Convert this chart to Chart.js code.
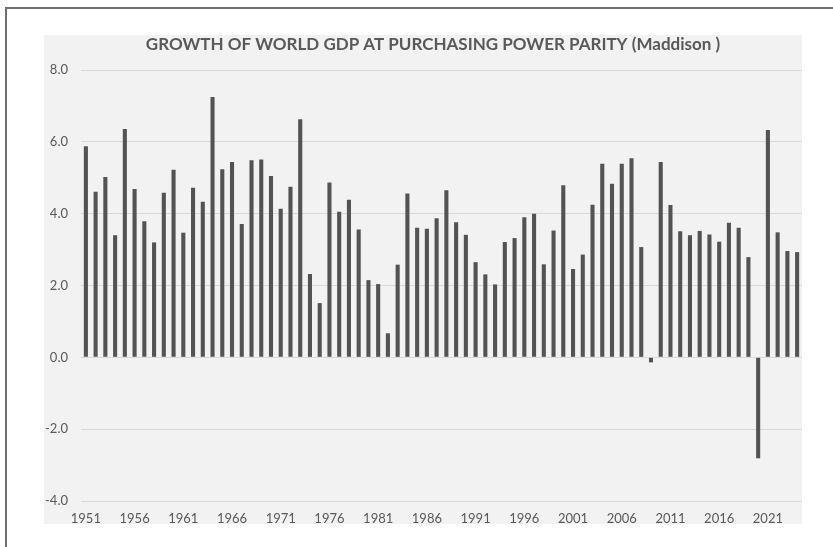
<!DOCTYPE html>
<html>
<head>
<meta charset="utf-8">
<script src="https://cdn.jsdelivr.net/npm/chart.js@4/dist/chart.umd.min.js"></script>
<style>
  html, body { margin: 0; padding: 0; background: #ffffff; }
  body { width: 833px; height: 547px; position: relative; overflow: hidden; }
  #frame {
    position: absolute; left: 5px; top: 7px; width: 840px; height: 560px;
    border-left: 2px solid #707070; border-top: 2px solid #707070;
  }
  #panel {
    position: absolute; left: 44px; top: 35px; width: 758px; height: 489px;
    background: #f2f2f2; overflow: hidden;
  }
  canvas { display: block; }
</style>
</head>
<body>
<div id="frame"></div>
<div id="panel"><canvas id="chart" width="758" height="492"></canvas></div>
<script>
// World GDP growth at PPP, % per year
const years = [];
for (let y = 1951; y <= 2024; y++) years.push(String(y));

const growth1951to1975 = [5.88, 4.61, 5.02, 3.40, 6.36, 4.69, 3.79, 3.20, 4.58, 5.22,
                          3.47, 4.72, 4.33, 7.25, 5.24, 5.44, 3.71, 5.49, 5.51, 5.05,
                          4.14, 4.75, 6.63, 2.32, 1.51];
const growth1976to2000 = [4.87, 4.05, 4.39, 3.56, 2.15, 2.04, 0.67, 2.58, 4.56, 3.61,
                          3.58, 3.87, 4.65, 3.76, 3.41, 2.65, 2.31, 2.03, 3.21, 3.32,
                          3.90, 4.00, 2.59, 3.53, 4.79];
const growth2001to2024 = [2.46, 2.86, 4.25, 5.39, 4.83, 5.39, 5.54, 3.07, -0.14, 5.44,
                          4.24, 3.51, 3.40, 3.52, 3.42, 3.22, 3.75, 3.61, 2.79, -2.81,
                          6.33, 3.48, 2.96, 2.93];
const growth = [...growth1951to1975, ...growth1976to2000, ...growth2001to2024];

const yTicks = [-4, -2, 0, 2, 4, 6, 8];
const labelEvery = 5;
const titleText = 'GROWTH OF WORLD GDP AT PURCHASING POWER PARITY (Maddison )';

const textColor = '#595959';
const baseFont = 'Lato, "Liberation Sans", sans-serif';

// Draws the chart heading slightly right of the canvas centre
const headingPlugin = {
  id: 'heading',
  afterDraw(chart) {
    const ctx = chart.ctx;
    ctx.save();
    ctx.fillStyle = textColor;
    ctx.font = 'bold 17px ' + baseFont;
    ctx.textAlign = 'center';
    ctx.textBaseline = 'middle';
    ctx.fillText(titleText, 389, 10);
    ctx.restore();
  }
};

new Chart(document.getElementById('chart'), {
  type: 'bar',
  data: {
    labels: years,
    datasets: [{
      data: growth,
      backgroundColor: '#535353',
      borderWidth: 0,
      barPercentage: 0.42,
      categoryPercentage: 1.0
    }]
  },
  plugins: [headingPlugin],
  options: {
    responsive: false,
    animation: false,
    layout: { padding: { left: 0, right: 0, top: 35, bottom: 0 } },
    plugins: {
      legend: { display: false },
      tooltip: { enabled: false },
      title: { display: false }
    },
    scales: {
      x: {
        afterFit: (scale) => { scale.height = 26; scale.paddingRight = 0; },
        grid: { display: false, drawTicks: false },
        border: { display: false },
        ticks: {
          color: textColor,
          font: { family: baseFont, size: 13 },
          autoSkip: false,
          maxRotation: 0,
          padding: 10,
          callback: function (v, i) {
            return i % labelEvery === 0 ? years[i] : '';
          }
        }
      },
      y: {
        min: yTicks[0],
        max: yTicks[yTicks.length - 1],
        afterBuildTicks: (scale) => { scale.ticks = yTicks.map(v => ({ value: v })); },
        afterFit: (scale) => { scale.width = 37; },
        grid: { color: '#d9d9d9', lineWidth: 1, drawTicks: false },
        border: { display: false },
        ticks: {
          color: textColor,
          font: { family: baseFont, size: 13 },
          padding: 13,
          callback: (v) => v.toFixed(1)
        }
      }
    }
  }
});
</script>
</body>
</html>
